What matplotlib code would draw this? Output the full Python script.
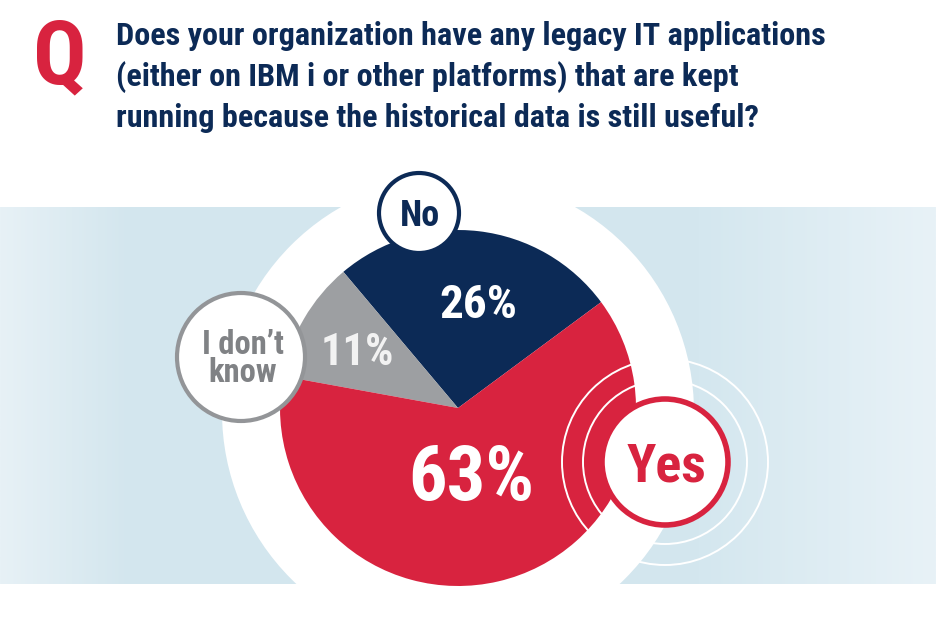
import numpy as np
import matplotlib.pyplot as plt
from matplotlib.patches import Circle
from matplotlib.colors import to_rgb

# survey answers
labels = ["No", "I don\u2019t\nknow", "Yes"]
values = [26, 11, 63]
pct_labels = ["26%", "11%", "63%"]
question = ["Does your organization have any legacy IT applications",
            "(either on IBM i or other platforms) that are kept",
            "running because the historical data is still useful?"]

RED = "#d8233f"
NAVY = "#0c2a56"
GRAY = "#9d9fa2"
GRAY_TXT = "#808285"
FONT = ["Roboto Condensed", "Liberation Sans Narrow", "DejaVu Sans"]

W, H = 936, 635
fig = plt.figure(figsize=(W / 100, H / 100), dpi=100)
ax = fig.add_axes([0, 0, 1, 1])


def Y(y):
    # image rows -> axes y
    return H - y


# light blue band with soft gradient at both ends
xs = np.linspace(0, W, 400)
stops_x = [0, 130, 700, W]
stops_c = [to_rgb("#e7f1f6"), to_rgb("#d3e6ee"), to_rgb("#d4e7ef"), to_rgb("#e8f2f7")]
grad = np.zeros((1, len(xs), 3))
for k in range(3):
    grad[0, :, k] = np.interp(xs, stops_x, [c[k] for c in stops_c])
ax.imshow(grad, extent=[0, W, Y(584), Y(207)], aspect="auto", zorder=0)

# white disc behind the pie
ax.add_patch(Circle((458, Y(412)), 236, fc="white", ec="none", zorder=2))

cx, cy, r = 458, Y(408), 178
wedges, _ = ax.pie(values, colors=[NAVY, GRAY, RED], startangle=36.5,
                   counterclock=True, center=(cx, cy), radius=r,
                   wedgeprops=dict(linewidth=0))
for w in wedges:
    w.set_zorder(3)

# percentage labels
ax.text(478, Y(318), pct_labels[0], color="white", fontsize=34, fontweight="bold",
        family=FONT, ha="center", va="baseline", zorder=6)
ax.text(357, Y(365), pct_labels[1], color="#f2f2f2", fontsize=32, fontweight="bold",
        family=FONT, ha="center", va="baseline", zorder=6)
ax.text(471, Y(500), pct_labels[2], color="white", fontsize=55, fontweight="bold",
        family=FONT, ha="center", va="baseline", zorder=6)

# rings around the Yes bubble
for rr in [82, 103]:
    ax.add_patch(Circle((665, Y(462)), rr, fill=False, ec="white", lw=1.4, zorder=4))

# answer bubbles
ax.add_patch(Circle((419, Y(213)), 40, fc="white", ec=NAVY, lw=3, zorder=5))
ax.text(420, Y(226), labels[0], color=NAVY, fontsize=26, fontweight="bold",
        family=FONT, ha="center", va="baseline", zorder=6)

ax.add_patch(Circle((241, Y(357)), 64, fc="white", ec="#939598", lw=3, zorder=5))
ax.text(243, Y(359), labels[1], color=GRAY_TXT, fontsize=23.5, fontweight="bold",
        family=FONT, ha="center", va="center", linespacing=0.85, zorder=6)

ax.add_patch(Circle((665, Y(462)), 63, fc="white", ec=RED, lw=4, zorder=5))
ax.text(666, Y(482), labels[2], color=RED, fontsize=39, fontweight="bold",
        family=FONT, ha="center", va="baseline", zorder=6)

# question header
ax.text(33, Y(83), "Q", color=RED, fontsize=64, fontweight="bold",
        family=FONT, ha="left", va="baseline", zorder=6)
for i, line in enumerate(question):
    ax.text(116, Y(45 + i * 41), line, color=NAVY, fontsize=23.2, fontweight="bold",
            family=FONT, ha="left", va="baseline", zorder=6)

ax.set_xlim(0, W)
ax.set_ylim(0, H)
ax.set_aspect("auto")
ax.axis("off")

fig.savefig("out.png", dpi=100)
